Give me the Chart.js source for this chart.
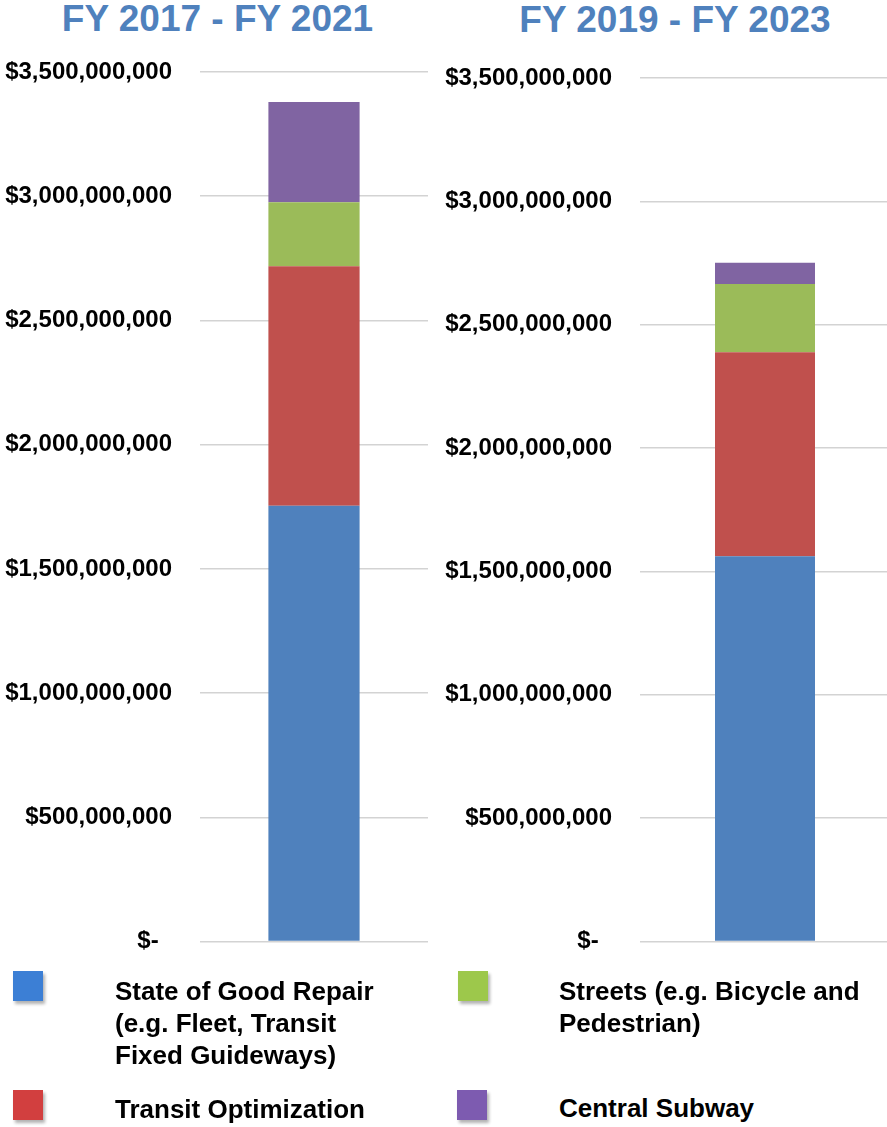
<!DOCTYPE html>
<html>
<head>
<meta charset="utf-8">
<script src="https://cdn.jsdelivr.net/npm/chart.js@4.4.0/dist/chart.umd.min.js"></script>
<style>
  html, body { margin: 0; padding: 0; background: #fff; overflow: hidden; }
  body { width: 887px; height: 1127px; position: relative; font-family: "Liberation Sans", Arial, sans-serif; }
  .title { position: absolute; font-size: 37px; line-height: 37px; font-weight: bold; color: #4F81BD; text-align: center; white-space: nowrap; }
  .wrap { position: absolute; }
  .sw { position: absolute; width: 30px; height: 30px; box-shadow: 2px 3px 3px rgba(0,0,0,0.3); }
  .lt { position: absolute; font-size: 26px; line-height: 32px; font-weight: bold; color: #000; white-space: nowrap; }
</style>
</head>
<body>

<div class="title" style="left:0; top:0; width:435px;" id="title1"></div>
<div class="title" style="left:440px; top:1px; width:470px;" id="title2"></div>

<div class="wrap" style="left:0; top:0;"><canvas id="chart1" width="440" height="984"></canvas></div>
<div class="wrap" style="left:440px; top:0;"><canvas id="chart2" width="450" height="984"></canvas></div>

<div class="sw" style="left:13px; top:971px; background:#3C7FD5;"></div>
<div class="lt" style="left:115px; top:975px;">State of Good Repair<br>(e.g. Fleet, Transit<br>Fixed Guideways)</div>
<div class="sw" style="left:13px; top:1090px; background:#D23F3F;"></div>
<div class="lt" style="left:115px; top:1093px;">Transit Optimization</div>
<div class="sw" style="left:458px; top:971px; background:#9DC84B;"></div>
<div class="lt" style="left:559px; top:975px;">Streets (e.g. Bicycle and<br>Pedestrian)</div>
<div class="sw" style="left:457px; top:1090px; background:#7D5BB0;"></div>
<div class="lt" style="left:559px; top:1092px;">Central Subway</div>

<script>
// one bar per chart, one period each
var periods = ['FY 2017 - FY 2021', 'FY 2019 - FY 2023'];
var stateOfGoodRepair = [1754000000, 1562000000];
var transitOptimization = [964000000, 827000000];
var streets = [258000000, 276000000];
var centralSubway = [403000000, 86000000];

var seriesNames = ['State of Good Repair', 'Transit Optimization', 'Streets', 'Central Subway'];
var seriesColors = ['#4F81BD', '#C0504D', '#9BBB59', '#8064A2'];
var yMax = 3500000000;
var yStep = 500000000;

function money(value) {
    if (value === 0) return '$-  ';
    return '$' + value.toLocaleString('en-US');
}

function drawPeriod(canvasId, i, pad) {
    var seriesData = [stateOfGoodRepair, transitOptimization, streets, centralSubway];
    var ctx = document.getElementById(canvasId).getContext('2d');
    new Chart(ctx, {
        type: 'bar',
        data: {
            labels: [periods[i]],
            datasets: seriesData.map(function (s, k) {
                return {
                    label: seriesNames[k],
                    data: [s[i]],
                    backgroundColor: seriesColors[k],
                    borderWidth: 0,
                    barPercentage: 0.4,
                    categoryPercentage: 1.0
                };
            })
        },
        options: {
            responsive: false,
            animation: false,
            layout: { padding: pad },
            plugins: {
                legend: { display: false },
                title: { display: false },
                tooltip: { enabled: false }
            },
            scales: {
                x: { stacked: true, display: false },
                y: {
                    stacked: true,
                    min: 0,
                    max: yMax,
                    border: { display: false },
                    grid: { color: '#d3d3d3', lineWidth: 1.5, drawTicks: false },
                    ticks: {
                        stepSize: yStep,
                        padding: 28,
                        color: '#000',
                        font: { family: '"Liberation Sans", Arial, sans-serif', size: 24, weight: 'bold' },
                        callback: function (v) { return money(v); }
                    },
                    // fixed axis width so the plot starts where the original does
                    afterFit: function (scale) { scale.width = 195; }
                }
            }
        }
    });
}

document.getElementById('title1').textContent = periods[0];
document.getElementById('title2').textContent = periods[1];

drawPeriod('chart1', 0, { top: 72, bottom: 0, left: 5, right: 12 });
drawPeriod('chart2', 1, { top: 78, bottom: 0, left: 5, right: 0 });
</script>
</body>
</html>
